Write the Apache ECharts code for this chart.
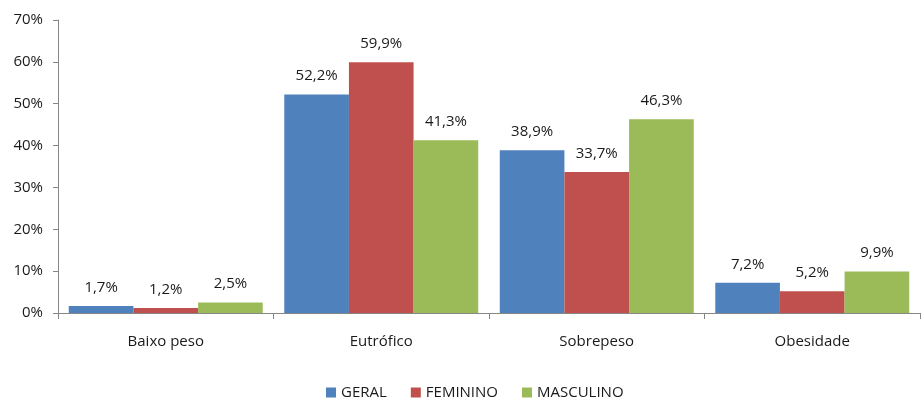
<!DOCTYPE html>
<html>
<head>
<meta charset="utf-8">
<script src="https://cdn.jsdelivr.net/npm/echarts@6/dist/echarts.min.js"></script>
<style>
  html, body { margin: 0; padding: 0; background: #fff; }
  #chart { width: 921px; height: 398px; }
</style>
</head>
<body>
<div id="chart"></div>
<script>
// Estado nutricional por sexo (%)
const categories = ['Baixo peso', 'Eutrófico', 'Sobrepeso', 'Obesidade'];
const geral = [1.7, 52.2, 38.9, 7.2];
const feminino = [1.2, 59.9, 33.7, 5.2];
const masculino = [2.5, 41.3, 46.3, 9.9];
const seriesNames = ['GERAL', 'FEMININO', 'MASCULINO'];
const colors = ['#4f81bd', '#c0504d', '#9bbb59'];

const fontFamily = '"Open Sans", "Liberation Sans", sans-serif';
const textColor = '#1a1a1a';
const axisGray = '#868686';

function pct(v) {
  return v.toFixed(1).replace('.', ',') + '%';
}

function barSeries(name, data, color) {
  return {
    name: name,
    type: 'bar',
    data: data,
    barGap: '0%',
    barCategoryGap: '10%',
    itemStyle: { color: color },
    label: {
      show: true,
      position: 'top',
      distance: 11,
      color: textColor,
      fontSize: 15,
      fontFamily: fontFamily,
      formatter: p => pct(p.value)
    }
  };
}

const chart = echarts.init(document.getElementById('chart'));
chart.setOption({
  animation: false,
  color: colors,
  textStyle: { fontFamily: fontFamily },
  grid: { left: 58, right: 1, top: 20, bottom: 85, containLabel: false },
  legend: {
    top: 380,
    left: 321,
    itemWidth: 10,
    itemHeight: 10,
    itemGap: 24,
    icon: 'rect',
    textStyle: { fontSize: 15, color: textColor, fontFamily: fontFamily },
    data: seriesNames
  },
  xAxis: {
    type: 'category',
    data: categories,
    axisLine: { lineStyle: { color: axisGray } },
    axisTick: { show: true, length: 6, lineStyle: { color: axisGray } },
    axisLabel: { fontSize: 15, color: textColor, margin: 21, fontFamily: fontFamily }
  },
  yAxis: {
    type: 'value',
    min: 0,
    max: 70,
    interval: 10,
    axisLine: { show: true, lineStyle: { color: axisGray } },
    axisTick: { show: true, length: 5, lineStyle: { color: axisGray } },
    splitLine: { show: false },
    axisLabel: {
      fontSize: 15,
      color: textColor,
      margin: 15,
      fontFamily: fontFamily,
      formatter: v => v + '%'
    }
  },
  series: [
    barSeries(seriesNames[0], geral, colors[0]),
    barSeries(seriesNames[1], feminino, colors[1]),
    barSeries(seriesNames[2], masculino, colors[2])
  ]
});
</script>
</body>
</html>
